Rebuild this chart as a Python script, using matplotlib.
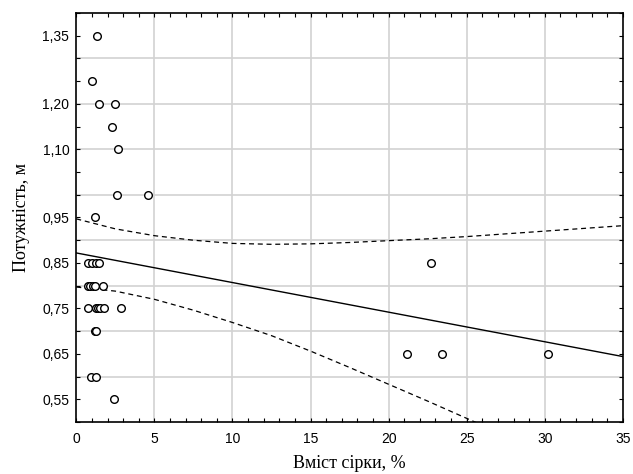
import matplotlib
matplotlib.use("Agg")
import matplotlib.pyplot as plt
import numpy as np

# Data points (sulfur content %, thickness m)
sulfur = [1.32, 0.98, 1.45, 2.51, 2.29, 2.70, 2.61, 4.59, 1.17,
          0.75, 1.00, 1.25, 1.45,
          0.75, 0.85, 1.10, 1.20, 1.70,
          0.77, 1.25, 1.40, 1.55, 1.75, 2.88,
          1.18, 1.26,
          0.92, 1.24,
          2.42,
          22.7, 21.2, 23.4, 30.2]
thickness = [1.35, 1.25, 1.20, 1.20, 1.15, 1.10, 1.00, 1.00, 0.95,
             0.85, 0.85, 0.85, 0.85,
             0.80, 0.80, 0.80, 0.80, 0.80,
             0.75, 0.75, 0.75, 0.75, 0.75, 0.75,
             0.70, 0.70,
             0.60, 0.60,
             0.55,
             0.85, 0.65, 0.65, 0.65]

# Regression line
fit_x = [0, 35]
fit_y = [0.872, 0.644]

# Confidence band
band_x = [0, 2.5, 5, 7.5, 10, 12.5, 15, 17.5, 20, 22.5, 25, 27.5, 30, 32.5, 35]
band_upper = [0.947, 0.925, 0.910, 0.900, 0.893, 0.891, 0.892, 0.895, 0.899,
              0.903, 0.908, 0.914, 0.920, 0.926, 0.932]
band_lower_x = [0, 2.5, 5, 7.5, 10, 12.5, 15, 17.5, 20, 22.5, 25, 27.5]
band_lower = [0.797, 0.788, 0.770, 0.746, 0.719, 0.690, 0.656, 0.620, 0.583,
              0.546, 0.508, 0.470]

y_tick_vals = [0.55, 0.65, 0.75, 0.85, 0.95, 1.10, 1.20, 1.35]
y_tick_labels = ["0,55", "0,65", "0,75", "0,85", "0,95", "1,10", "1,20", "1,35"]
x_ticks = [0, 5, 10, 15, 20, 25, 30, 35]
x_grid = [5, 10, 15, 20, 25, 30]
y_grid = [0.6, 0.7, 0.8, 0.9, 1.0, 1.1, 1.2, 1.3]

fig = plt.figure(figsize=(6.33, 4.74), dpi=100)
ax = fig.add_axes([0.1205, 0.1097, 0.8635, 0.8629])

for gx in x_grid:
    ax.axvline(gx, color="#d2d2d2", lw=1.2, zorder=0)
for gy in y_grid:
    ax.axhline(gy, color="#d2d2d2", lw=1.2, zorder=0)

ax.plot(fit_x, fit_y, color="black", lw=1.0, zorder=2)
ax.plot(band_x, band_upper, color="black", lw=0.9, ls=(0, (4, 3)), zorder=2)
ax.plot(band_lower_x, band_lower, color="black", lw=0.9, ls=(0, (4, 3)), zorder=2)
ax.plot(sulfur, thickness, ls="none", marker="o", ms=5.5, mfc="white",
        mec="black", mew=1.0, zorder=3)

ax.set_xlim(0, 35)
ax.set_ylim(0.5, 1.4)
ax.set_xticks(x_ticks)
ax.set_xticklabels([str(v) for v in x_ticks], fontfamily="Liberation Sans", fontsize=10)
ax.set_xticks(np.arange(0, 36, 1), minor=True)
ax.set_yticks(y_tick_vals)
ax.set_yticklabels(y_tick_labels, fontfamily="Liberation Sans", fontsize=10)
ax.set_yticks(np.arange(0.5, 1.41, 0.05), minor=True)

ax.tick_params(which="both", direction="in", top=True, right=True,
               length=3, width=0.8, color="black")
ax.tick_params(axis="x", which="major", pad=7)
ax.tick_params(axis="y", which="major", pad=5)
for s in ax.spines.values():
    s.set_linewidth(1.2)
    s.set_color("black")

ax.set_xlabel("Вміст сірки, %", fontfamily="Liberation Serif", fontsize=13, labelpad=7)
ax.set_ylabel("Потужність, м", fontfamily="Liberation Serif", fontsize=13, labelpad=9)

fig.savefig("out.png", dpi=100)
